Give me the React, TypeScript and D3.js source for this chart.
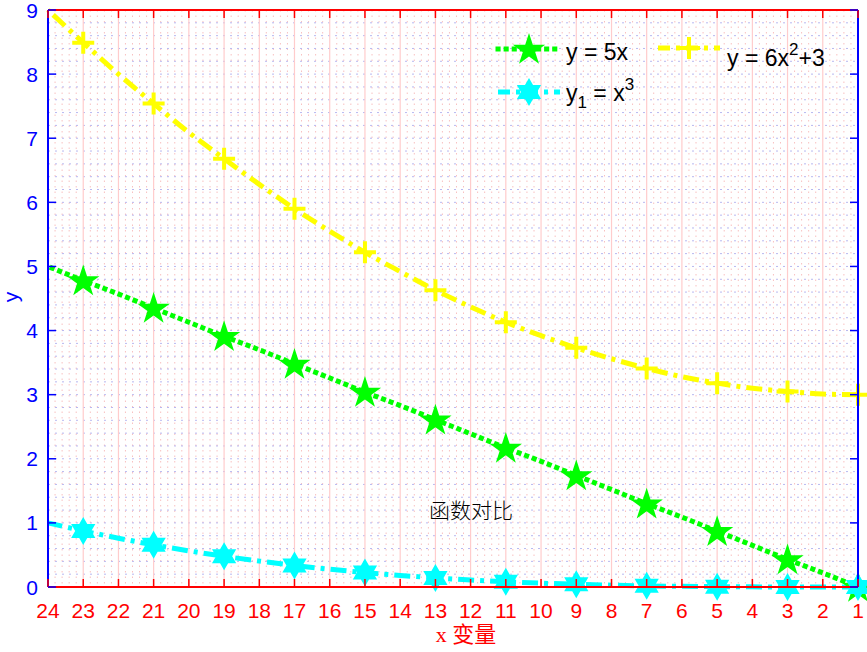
import { useEffect, useRef } from "react";
import * as d3 from "d3";

// x runs 0..1 in 24 steps; axis is reversed and labelled 24..1
const xValues = [0, 0.0435, 0.087, 0.1304, 0.1739, 0.2174, 0.2609, 0.3043, 0.3478, 0.3913, 0.4348, 0.4783,
  0.5217, 0.5652, 0.6087, 0.6522, 0.6957, 0.7391, 0.7826, 0.8261, 0.8696, 0.913, 0.9565, 1];
const xTickLabels = ["1", "2", "3", "4", "5", "6", "7", "8", "9", "10", "11", "12",
  "13", "14", "15", "16", "17", "18", "19", "20", "21", "22", "23", "24"];
const yLinear = [0, 0.22, 0.43, 0.65, 0.87, 1.09, 1.3, 1.52, 1.74, 1.96, 2.17, 2.39,
  2.61, 2.83, 3.04, 3.26, 3.48, 3.7, 3.91, 4.13, 4.35, 4.57, 4.78, 5];
const yCubic = [0, 0.0001, 0.0007, 0.0022, 0.0053, 0.0103, 0.0178, 0.0282, 0.0421, 0.0599, 0.0822, 0.1094,
  0.142, 0.1806, 0.2255, 0.2774, 0.3367, 0.4038, 0.4793, 0.5637, 0.6575, 0.7612, 0.8752, 1];
const yQuad = [3, 3.01, 3.05, 3.1, 3.18, 3.28, 3.41, 3.56, 3.73, 3.92, 4.13, 4.37,
  4.63, 4.92, 5.22, 5.55, 5.9, 6.28, 6.68, 7.09, 7.54, 8, 8.49, 9];
const yTicks = [0, 1, 2, 3, 4, 5, 6, 7, 8, 9];

const W = 867, H = 652;
const left = 48, right = 858, top = 10, bottom = 587;
const sans = "Liberation Sans, Arial, sans-serif";

const pentagram = (r: number) => {
  const pts: string[] = [];
  for (let i = 0; i < 10; i++) {
    const rr = i % 2 === 0 ? r : r * 0.382;
    const a = -Math.PI / 2 + (i * Math.PI) / 5;
    pts.push(`${rr * Math.cos(a)},${rr * Math.sin(a)}`);
  }
  return "M" + pts.join("L") + "Z";
};
const hexagram = (r: number) => {
  const pts: string[] = [];
  for (let i = 0; i < 12; i++) {
    const rr = i % 2 === 0 ? r : r * 0.577;
    const a = -Math.PI / 2 + (i * Math.PI) / 6;
    pts.push(`${rr * Math.cos(a)},${rr * Math.sin(a)}`);
  }
  return "M" + pts.join("L") + "Z";
};
const plus = (r: number) => `M${-r},0L${r},0M0,${-r}L0,${r}`;

const series = [
  { name: "linear", values: yLinear, color: "#00ff00", dash: "0.1,8", cap: "square", marker: "star" },
  { name: "quad", values: yQuad, color: "#ffff00", dash: "16,6,4,6", cap: "butt", marker: "plus" },
  { name: "cubic", values: yCubic, color: "#00ffff", dash: "16,6,4,6", cap: "butt", marker: "hex" },
];

const App = () => {
  const svgRef = useRef<SVGSVGElement>(null);

  useEffect(() => {
    const svg = d3.select(svgRef.current);
    svg.selectAll("*").remove();
    const x = d3.scaleLinear().domain([1, 0]).range([left, right]);
    const y = d3.scaleLinear().domain([0, 9]).range([bottom, top]);
    const step = (xValues[1] - xValues[0]);

    svg.append("rect").attr("width", W).attr("height", H).attr("fill", "white");

    // minor vertical grid (dotted pink)
    const g = svg.append("g");
    xValues.slice(0, -1).forEach((v) => {
      for (let k = 1; k < 5; k++) {
        const px = x(v + (step * k) / 5);
        g.append("line").attr("x1", px).attr("x2", px).attr("y1", top).attr("y2", bottom)
          .attr("stroke", "#f8c0c0").attr("stroke-width", 1).attr("stroke-dasharray", "1.5,4");
      }
    });
    // horizontal grid (dotted blue) every 0.2
    d3.range(1, 45).forEach((i) => {
      const py = y(i * 0.2);
      g.append("line").attr("x1", left).attr("x2", right).attr("y1", py).attr("y2", py)
        .attr("stroke", "#b8b8f0").attr("stroke-width", 1).attr("stroke-dasharray", "2,5");
    });
    // major vertical grid
    xValues.forEach((v) => {
      g.append("line").attr("x1", x(v)).attr("x2", x(v)).attr("y1", top).attr("y2", bottom)
        .attr("stroke", "#ffcccc").attr("stroke-width", 1.2);
    });

    // lines
    const line = d3.line<number>().x((_, i) => x(xValues[i])).y((d) => y(d)).curve(d3.curveMonotoneX);
    series.forEach((s) => {
      svg.append("path").attr("d", line(s.values)).attr("fill", "none")
        .attr("stroke", s.color).attr("stroke-width", 5)
        .attr("stroke-dasharray", s.dash).attr("stroke-linecap", s.cap);
    });

    // markers every other point
    const drawMarker = (gg: any, kind: string, color: string, cx: number, cy: number) => {
      if (kind === "star") {
        gg.append("path").attr("d", pentagram(17)).attr("transform", `translate(${cx},${cy + 1})`).attr("fill", color);
      } else if (kind === "hex") {
        gg.append("path").attr("d", hexagram(14)).attr("transform", `translate(${cx},${cy})`).attr("fill", color);
      } else {
        gg.append("path").attr("d", plus(11)).attr("transform", `translate(${cx},${cy})`)
          .attr("stroke", color).attr("stroke-width", 4).attr("fill", "none");
      }
    };
    series.forEach((s) => {
      s.values.forEach((v, i) => {
        if (i % 2 === 0 && i < 23) drawMarker(svg, s.marker, s.color, x(xValues[i]), y(v));
      });
    });

    // axes frame
    svg.append("line").attr("x1", left).attr("x2", right).attr("y1", bottom).attr("y2", bottom).attr("stroke", "red").attr("stroke-width", 2);
    svg.append("line").attr("x1", left).attr("x2", right).attr("y1", top).attr("y2", top).attr("stroke", "red").attr("stroke-width", 2);
    svg.append("line").attr("x1", left).attr("x2", left).attr("y1", top).attr("y2", bottom).attr("stroke", "blue").attr("stroke-width", 2);
    svg.append("line").attr("x1", right).attr("x2", right).attr("y1", top).attr("y2", bottom).attr("stroke", "blue").attr("stroke-width", 2);

    xValues.forEach((v, i) => {
      const px = x(v);
      svg.append("line").attr("x1", px).attr("x2", px).attr("y1", bottom).attr("y2", bottom - 8).attr("stroke", "red").attr("stroke-width", 1.5);
      svg.append("line").attr("x1", px).attr("x2", px).attr("y1", top).attr("y2", top + 8).attr("stroke", "red").attr("stroke-width", 1.5);
      svg.append("text").attr("x", px).attr("y", 618).attr("text-anchor", "middle")
        .attr("font-family", sans).attr("font-size", 21).attr("fill", "red")
        .text(xTickLabels[i]);
    });
    yTicks.forEach((t) => {
      const py = y(t);
      svg.append("line").attr("x1", left).attr("x2", left + 8).attr("y1", py).attr("y2", py).attr("stroke", "blue").attr("stroke-width", 1.5);
      svg.append("line").attr("x1", right).attr("x2", right - 8).attr("y1", py).attr("y2", py).attr("stroke", "blue").attr("stroke-width", 1.5);
      svg.append("text").attr("x", 38).attr("y", py + 7.5).attr("text-anchor", "end")
        .attr("font-family", sans).attr("font-size", 21).attr("fill", "blue")
        .text(t);
    });

    // axis labels
    svg.append("text").attr("transform", `translate(18,297) rotate(-90)`).attr("text-anchor", "middle")
      .attr("font-family", sans).attr("font-size", 21).attr("fill", "blue").text("y");
    svg.append("text").attr("x", 466).attr("y", 642).attr("text-anchor", "middle")
      .attr("font-family", "Liberation Serif, Noto Sans CJK SC, serif").attr("font-size", 22).attr("fill", "red").text("x 变量");
    svg.append("text").attr("x", 471).attr("y", 518).attr("text-anchor", "middle")
      .attr("font-family", "Noto Sans CJK SC, serif").attr("font-size", 21).attr("font-weight", 300).attr("fill", "black").text("函数对比");

    // legend
    const lg = svg.append("g").attr("font-family", sans).attr("font-size", 23).attr("fill", "black");
    const legendItems = [
      { s: series[0], x0: 498, ly: 49 },
      { s: series[1], x0: 658, ly: 48 },
      { s: series[2], x0: 498, ly: 92 },
    ];
    legendItems.forEach(({ s, x0, ly }) => {
      lg.append("line").attr("x1", x0).attr("x2", x0 + 62).attr("y1", ly).attr("y2", ly)
        .attr("stroke", s.color).attr("stroke-width", 5).attr("stroke-dasharray", s.marker === "star" ? "0.1,8" : "12,6,4,6")
        .attr("stroke-linecap", s.cap);
      drawMarker(lg, s.marker, s.color, x0 + 31, ly);
    });
    const t1 = lg.append("text").attr("x", 566).attr("y", 60);
    t1.text("y = 5x");
    const t2 = lg.append("text").attr("x", 727).attr("y", 66);
    t2.append("tspan").text("y = 6x");
    t2.append("tspan").attr("dy", -11).attr("font-size", 17).text("2");
    t2.append("tspan").attr("dy", 11).text("+3");
    const t3 = lg.append("text").attr("x", 566).attr("y", 101);
    t3.append("tspan").text("y");
    t3.append("tspan").attr("dy", 7).attr("font-size", 17).text("1");
    t3.append("tspan").attr("dy", -7).text(" = x");
    t3.append("tspan").attr("dy", -11).attr("font-size", 17).text("3");
  }, []);

  return (
    <svg ref={svgRef} width={W} height={H} style={{ position: "absolute", left: 0, top: 0 }} />
  );
};

export default App;
